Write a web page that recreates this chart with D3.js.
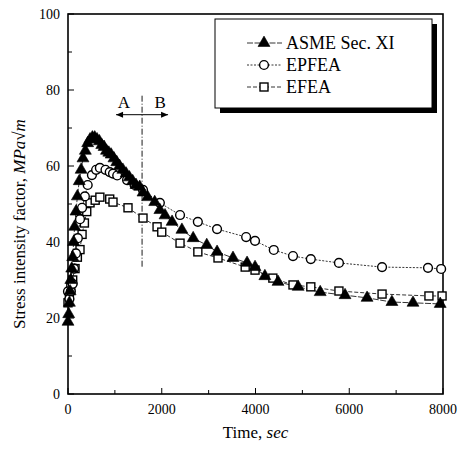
<!DOCTYPE html>
<html>
<head>
<meta charset="utf-8">
<script src="https://cdn.jsdelivr.net/npm/d3@7"></script>
<style>
  body { margin: 0; background: #fff; }
  text { font-family: "Liberation Serif", "DejaVu Serif", serif; fill: #000; }
</style>
</head>
<body>
<svg width="469" height="449"></svg>
<script>
// data: [time (sec), K (MPa sqrt m)]
var asme = [[0,19],[15,21],[30,24],[45,27],[60,30],[80,33],[100,36],[120,40],[140,44],[170,48],[200,52],
  [240,56],[280,59],[320,62],[370,64],[420,66],[470,67],[520,67.5],[570,67.5],[620,67],[670,66.5],[720,65.5],
  [770,65],[820,64],[870,63.5],[920,63],[980,62],[1040,61],[1100,60],[1170,59],[1240,58],[1310,57],[1380,56],
  [1450,55],[1530,54.5],[1600,53],[1700,51.8],[1850,50.5],[1960,48.4],[2070,47],[2220,45.3],[2430,43.2],
  [2670,41],[2960,39.2],[3180,37.4],[3520,35.8],[3820,34.5],[3990,33.4],[4200,31],[4480,29.5],[4910,28.2],
  [5380,26.8],[5910,26],[6380,25.3],[6910,24.2],[7360,24],[7940,23.7]];
var epfea = [[0,27],[30,25],[60,27],[100,29],[130,33],[170,37],[210,41],[256,46],[300,49],[360,52],[420,55],
  [510,57.6],[600,59],[680,59.5],[800,59],[890,58.4],[960,58],[1050,57.5],[1260,56.3],[1420,55],[1600,53.7],
  [1960,50.3],[2390,47.1],[2770,45.3],[3180,43.4],[3800,41.3],[3990,40.3],[4390,37.9],[4800,36.3],[5180,35.5],
  [5780,34.5],[6700,33.4],[7680,33.2],[7960,32.9]];
var efea = [[0,24],[30,26],[60,28],[100,30],[150,33],[200,36],[256,38],[300,42],[350,45],[400,48],[470,50.3],
  [580,51],[680,51.8],[890,51.3],[960,50.5],[1280,49],[1600,46.3],[1900,44],[2000,42.6],[2390,39.7],
  [2770,37.4],[3200,35.8],[3780,33.4],[3990,32.6],[4370,30.5],[4800,28.7],[5180,28.2],[5780,27.1],
  [6700,26.3],[7700,25.8],[7980,25.8]];
var seriesNames = ["ASME Sec. XI", "EPFEA", "EFEA"];
var xTicks = [0, 2000, 4000, 6000, 8000];
var yTicks = [0, 20, 40, 60, 80, 100];
var tBoundary = 1580;

var svg = d3.select("svg");
var margin = {left: 68, right: 26, top: 14, bottom: 55};
var width = 469 - margin.left - margin.right,
    height = 449 - margin.top - margin.bottom;

var x = d3.scaleLinear().domain([0, 8000]).range([0, width]);
var y = d3.scaleLinear().domain([0, 100]).range([height, 0]);

var g = svg.append("g").attr("transform", "translate(" + margin.left + "," + margin.top + ")");

// inward minor ticks
g.selectAll(".xt").data(d3.range(0, 8001, 1000)).enter().append("line")
  .attr("x1", d => x(d)).attr("x2", d => x(d))
  .attr("y1", height).attr("y2", d => height - (d % 2000 == 0 ? 6 : 4))
  .attr("stroke", "#000").attr("stroke-width", 1);
g.selectAll(".yt").data(d3.range(0, 101, 10)).enter().append("line")
  .attr("x1", 0).attr("x2", d => (d % 20 == 0 ? 6 : 4))
  .attr("y1", d => y(d)).attr("y2", d => y(d))
  .attr("stroke", "#000").attr("stroke-width", 1);

// tick labels
g.selectAll(".xl").data(xTicks).enter().append("text")
  .attr("x", d => x(d)).attr("y", height + 20)
  .attr("text-anchor", "middle").style("font-size", "14px").text(d => d);
g.selectAll(".yl").data(yTicks).enter().append("text")
  .attr("x", -8).attr("y", d => y(d) + 5)
  .attr("text-anchor", "end").style("font-size", "14px").text(d => d);

// frame
g.append("rect").attr("width", width).attr("height", height)
  .attr("fill", "none").attr("stroke", "#000").attr("stroke-width", 1.6);

// axis titles
svg.append("text").attr("x", margin.left + width / 2).attr("y", 438)
  .attr("text-anchor", "middle").style("font-size", "17px")
  .html('Time, <tspan font-style="italic">sec</tspan>');
svg.append("text").attr("transform", "translate(25,224) rotate(-90)")
  .attr("text-anchor", "middle").style("font-size", "17px")
  .html('Stress intensity factor, <tspan font-style="italic">MPa</tspan>√<tspan font-style="italic">m</tspan>');

// boundary A | B
g.append("line").attr("x1", x(tBoundary)).attr("x2", x(tBoundary))
  .attr("y1", y(78.5)).attr("y2", y(33.5))
  .attr("stroke", "#000").attr("stroke-width", 0.9).style("stroke-dasharray", "6,2,1,2");
var ay = y(73.5);
[[-26, "A"], [26, "B"]].forEach(function(p) {
  var x0 = x(tBoundary), x1 = x0 + p[0];
  g.append("line").attr("x1", x0).attr("x2", x1).attr("y1", ay).attr("y2", ay)
    .attr("stroke", "#000").attr("stroke-width", 1);
  var s = Math.sign(p[0]);
  g.append("path").attr("d", "M" + x1 + "," + ay + "L" + (x1 - s * 7) + "," + (ay - 3) + "L" + (x1 - s * 7) + "," + (ay + 3) + "Z")
    .attr("fill", "#000");
  g.append("text").attr("x", x0 + p[0] * 0.7).attr("y", ay - 7)
    .attr("text-anchor", "middle").style("font-size", "17px").text(p[1]);
});

var line = d3.line().x(d => x(d[0])).y(d => y(d[1]));
var dashes = ["6,1.5", "2,1.5", "4,2"];
var sets = [asme, epfea, efea];

sets.forEach(function(data, i) {
  g.append("path").datum(data).attr("d", line)
    .attr("fill", "none").attr("stroke", "#000").attr("stroke-width", 0.8)
    .style("stroke-dasharray", dashes[i]);
});

function marker(sel, i) {
  if (i == 0) {
    sel.append("path").attr("d", d3.symbol().type(d3.symbolTriangle).size(62))
      .attr("fill", "#000").attr("stroke", "#000").attr("stroke-width", 0.6);
  } else if (i == 1) {
    sel.append("circle").attr("r", 4.4).attr("fill", "#fff").attr("stroke", "#000").attr("stroke-width", 1.4);
  } else {
    sel.append("rect").attr("x", -4).attr("y", -4).attr("width", 8).attr("height", 8)
      .attr("fill", "#fff").attr("stroke", "#000").attr("stroke-width", 1.4);
  }
}

// draw EFEA, EPFEA then ASME on top
[2, 1, 0].forEach(function(i) {
  var pts = g.selectAll(".m" + i).data(sets[i]).enter().append("g")
    .attr("transform", d => "translate(" + x(d[0]) + "," + y(d[1]) + ")");
  marker(pts, i);
});

// legend with shadow
var lg = svg.append("g").attr("transform", "translate(215,19)");
lg.append("rect").attr("x", 5).attr("y", 5).attr("width", 217).attr("height", 89).attr("fill", "#000");
lg.append("rect").attr("width", 217).attr("height", 89).attr("fill", "#fff").attr("stroke", "#000").attr("stroke-width", 1);
seriesNames.forEach(function(name, i) {
  var ly = 24 + i * 22;
  lg.append("line").attr("x1", 32).attr("x2", 67).attr("y1", ly).attr("y2", ly)
    .attr("stroke", "#000").attr("stroke-width", 0.8).style("stroke-dasharray", dashes[i]);
  var m = lg.append("g").attr("transform", "translate(49," + ly + ")");
  marker(m, i);
  lg.append("text").attr("x", 71).attr("y", ly + 6).style("font-size", "18px").text(name);
});
</script>
</body>
</html>
